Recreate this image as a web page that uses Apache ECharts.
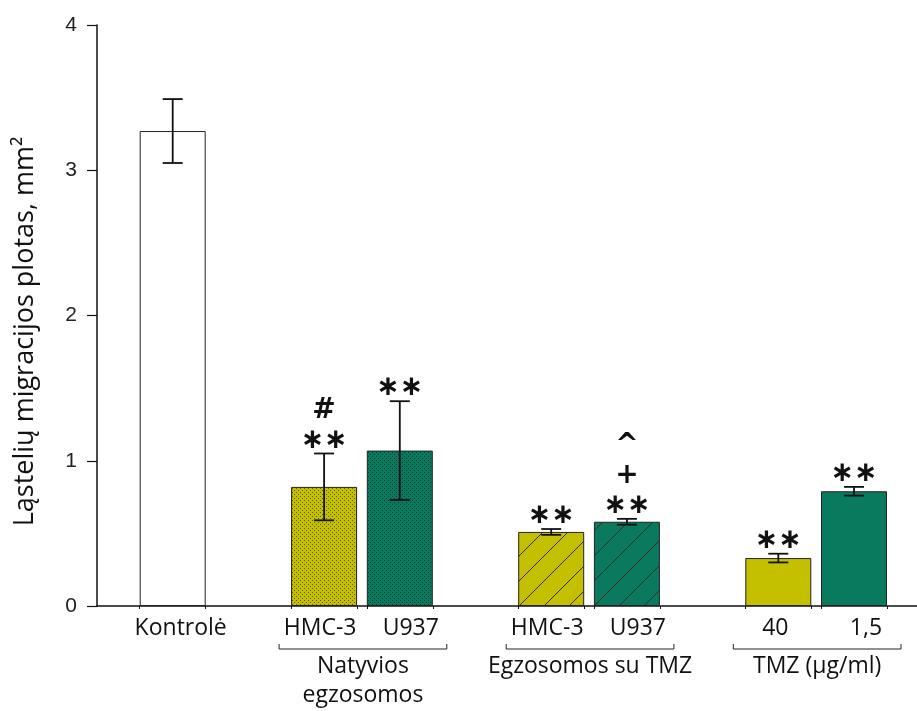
<!DOCTYPE html>
<html><head><meta charset="utf-8">
<script src="https://cdn.jsdelivr.net/npm/echarts@6/dist/echarts.min.js"></script>
<style>html,body{margin:0;padding:0;background:#fff}#c{width:917px;height:711px}</style>
</head><body><div id="c"></div>
<script>
// ---- data ----
const categories = ['Kontrolė', 'HMC-3', 'U937', 'HMC-3', 'U937', '40', '1,5'];
const positions = [1, 3, 4, 6, 7, 9, 10];
const values = [3.27, 0.82, 1.07, 0.51, 0.58, 0.33, 0.79];
const errors = [0.22, 0.23, 0.34, 0.02, 0.02, 0.03, 0.03];
const marks = ['', '#\n∗∗', '∗∗', '∗∗', '^\n+\n∗∗', '∗∗', '∗∗'];
const fillKinds = ['white', 'dotYellow', 'dotGreen', 'hatchYellow', 'hatchGreen', 'yellow', 'green'];
const groupNames = ['Natyvios\negzosomos', 'Egzosomos su TMZ', 'TMZ (µg/ml)'];
const groupStart = [3, 6, 9];
const groupEnd = [4, 7, 10];
const yTicks = [0, 1, 2, 3, 4];

// ---- styles ----
const YELLOW = '#c4c000';
const GREEN = '#0a7a5e';
// horizontal label nudges (px) to mimic the source typesetting
const labelNudge = [8, -4, 11, -4, 11, -3, 12];
function dotPattern(base, dot) {
  const c = document.createElement('canvas'); c.width = 4; c.height = 4;
  const g = c.getContext('2d');
  g.fillStyle = base; g.fillRect(0, 0, 4, 4);
  g.fillStyle = dot;
  g.fillRect(0, 0, 1, 1); g.fillRect(2, 2, 1, 1);
  return { image: c, repeat: 'repeat' };
}
function hatchPattern(base) {
  const s = 25;
  const c = document.createElement('canvas'); c.width = s; c.height = s;
  const g = c.getContext('2d');
  g.fillStyle = base; g.fillRect(0, 0, s, s);
  g.strokeStyle = '#2b2b2b'; g.lineWidth = 1;
  g.beginPath();
  g.moveTo(-2, s + 2); g.lineTo(s + 2, -2);
  g.moveTo(-2, 2); g.lineTo(2, -2);
  g.moveTo(s - 2, s + 2); g.lineTo(s + 2, s - 2);
  g.stroke();
  return { image: c, repeat: 'repeat' };
}
const fills = {
  white: '#ffffff',
  dotYellow: dotPattern(YELLOW, '#55550e'),
  dotGreen: dotPattern(GREEN, '#053d2d'),
  hatchYellow: hatchPattern(YELLOW),
  hatchGreen: hatchPattern(GREEN),
  yellow: YELLOW,
  green: GREEN
};
const BAR_W = 66;
const UNIT_PX = 75.7;
const halfBar = BAR_W / 2 / UNIT_PX;
const tickEdges = [];
positions.forEach(p => { tickEdges.push(p - halfBar, p + halfBar); });

const rich = {};
labelNudge.forEach((n, i) => {
  rich['s' + i] = {
    fontFamily: 'Open Sans', fontSize: 23, color: '#111',
    padding: n >= 0 ? [0, 0, 0, 2 * n] : [0, -2 * n, 0, 0]
  };
});

const chart = echarts.init(document.getElementById('c'), null, { renderer: 'canvas' });
const xMax = 820 / UNIT_PX;

chart.setOption({
  backgroundColor: '#ffffff',
  animation: false,
  grid: { left: 97, right: 0, top: 25, bottom: 105, outerBoundsMode: 'none' },
  xAxis: {
    type: 'value', min: 0, max: xMax,
    splitLine: { show: false },
    axisLine: { show: true, lineStyle: { color: '#111', width: 1.5 } },
    axisTick: { show: true, length: 3, customValues: tickEdges, lineStyle: { color: '#111' } },
    axisLabel: {
      customValues: positions, margin: 11,
      fontFamily: 'Open Sans', fontSize: 23, color: '#111', rich: rich,
      formatter: v => {
        let best = 0;
        positions.forEach((p, i) => { if (Math.abs(p - v) < Math.abs(positions[best] - v)) best = i; });
        return '{s' + best + '|' + categories[best] + '}';
      }
    }
  },
  yAxis: {
    type: 'value', min: 0, max: 4, interval: 1,
    name: 'Ląstelių migracijos plotas, mm²', nameLocation: 'middle', nameGap: 58,
    nameTextStyle: { fontFamily: 'Open Sans', fontSize: 27, color: '#111', padding: [0, 32, 0, 0] },
    splitLine: { show: false },
    axisLine: { show: true, lineStyle: { color: '#111', width: 1.5 } },
    axisTick: { show: true, length: 10, lineStyle: { color: '#111', width: 1.2 } },
    axisLabel: { margin: 20, fontFamily: 'Liberation Sans', fontSize: 21, color: '#222',
      formatter: v => yTicks.indexOf(v) >= 0 ? String(v) : '' }
  },
  series: [
    {
      type: 'bar', barWidth: BAR_W,
      data: positions.map((p, i) => ({ value: [p, values[i]], itemStyle: { color: fills[fillKinds[i]] } })),
      itemStyle: { borderColor: '#222', borderWidth: 1 },
      z: 2
    },
    {
      type: 'custom', clip: false, z: 5,
      data: positions.map((p, i) => [p, values[i], errors[i]]),
      renderItem: (params, api) => {
        const x = api.value(0), y = api.value(1), e = api.value(2);
        const t = api.coord([x, y + e]), b = api.coord([x, y - e]);
        const hw = 10;
        const ls = { stroke: '#111', lineWidth: 1.8 };
        return {
          type: 'group', children: [
            { type: 'line', shape: { x1: t[0], y1: t[1], x2: b[0], y2: b[1] }, style: ls },
            { type: 'line', shape: { x1: t[0] - hw, y1: t[1], x2: t[0] + hw, y2: t[1] }, style: ls },
            { type: 'line', shape: { x1: b[0] - hw, y1: b[1], x2: b[0] + hw, y2: b[1] }, style: ls },
            { type: 'text', x: t[0], y: t[1] + 2, style: {
              text: marks[params.dataIndex], align: 'center', verticalAlign: 'bottom',
              fontFamily: 'DejaVu Sans', fontSize: 28, fontWeight: 'bold', lineHeight: 30, fill: '#111' } }
          ]
        };
      }
    },
    {
      type: 'custom', clip: false, z: 5,
      encode: { x: [0, 1], y: 2 },
      data: groupStart.map((s, i) => [s, groupEnd[i], 0]),
      renderItem: (params, api) => {
        const a = api.coord([api.value(0), 0]), b = api.coord([api.value(1), 0]);
        const x1 = a[0] - 45, x2 = b[0] + 47, y = a[1] + 43;
        return {
          type: 'group', children: [
            { type: 'polyline', shape: { points: [[x1, y - 5], [x1, y], [x2, y], [x2, y - 5]] },
              style: { stroke: '#222', lineWidth: 1, fill: null } },
            { type: 'text', x: (x1 + x2) / 2, y: y + 3, style: {
              text: groupNames[params.dataIndex], align: 'center', verticalAlign: 'top',
              fontFamily: 'Open Sans', fontSize: 23, lineHeight: 29, fill: '#111' } }
          ]
        };
      }
    }
  ]
});
</script></body></html>
